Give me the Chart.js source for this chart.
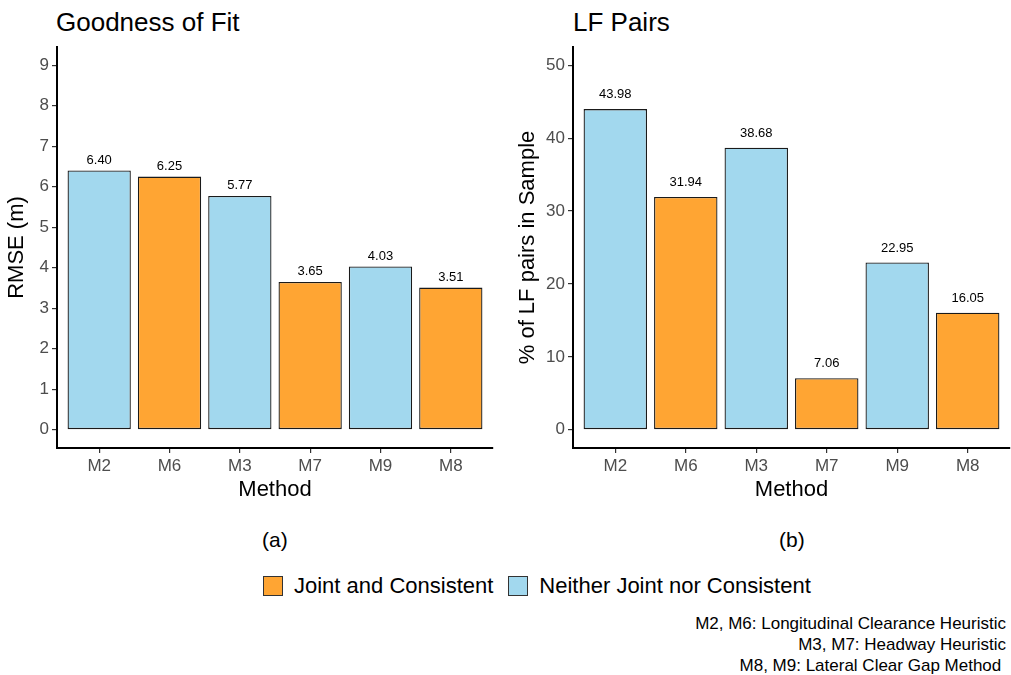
<!DOCTYPE html>
<html>
<head>
<meta charset="utf-8">
<script src="https://cdn.jsdelivr.net/npm/chart.js@4"></script>
<style>
  body { margin: 0; background: #fff; font-family: "Liberation Sans", Arial, sans-serif; }
  #wrap { position: relative; width: 1011px; height: 675px; }
  .box { position: absolute; }
  .title { position: absolute; font-size: 26px; color: #000; line-height: 1; }
  .tag { position: absolute; font-size: 21px; color: #000; line-height: 1; }
  #legend { position: absolute; left: 263px; top: 576px; display: flex; align-items: center; font-size: 22px; line-height: 20px; }
  #legend .sw { width: 20px; height: 20px; border: 1px solid #333; box-sizing: border-box; margin-right: 11px; }
  #legend .item { display: flex; align-items: center; margin-right: 15px; }
  #notes { position: absolute; right: 5px; top: 613px; text-align: right; font-size: 17px; line-height: 21px; }
</style>
</head>
<body>
<div id="wrap">
  <div class="title" style="left:56px; top:9px;">Goodness of Fit</div>
  <div class="title" style="left:573px; top:9px;">LF Pairs</div>
  <div class="box" style="left:0; top:0; width:505px; height:510px;"><canvas id="rmseChart"></canvas></div>
  <div class="box" style="left:505px; top:0; width:506px; height:510px;"><canvas id="pairsChart"></canvas></div>
  <div class="tag" style="left:262px; top:529px;">(a)</div>
  <div class="tag" style="left:779px; top:529px;">(b)</div>
  <div id="legend"></div>
  <div id="notes">
    M2, M6: Longitudinal Clearance Heuristic<br>
    M3, M7: Headway Heuristic<br>
    M8, M9: Lateral Clear Gap Method&nbsp;
  </div>
</div>
<script>
const methods = ['M2', 'M6', 'M3', 'M7', 'M9', 'M8'];
const groups = ['Neither', 'Joint', 'Neither', 'Joint', 'Neither', 'Joint'];
const rmse = [6.40, 6.25, 5.77, 3.65, 4.03, 3.51];
const lfPairs = [43.98, 31.94, 38.68, 7.06, 22.95, 16.05];
const rmseTicks = [0, 1, 2, 3, 4, 5, 6, 7, 8, 9];
const pairTicks = [0, 10, 20, 30, 40, 50];
const groupNames = ['Joint and Consistent', 'Neither Joint nor Consistent'];

const colors = { Joint: '#FFA533', Neither: '#A2D8EE' };
const FONT = '"Liberation Sans", Arial, sans-serif';

// value printed above each bar
const barLabels = {
  id: 'barLabels',
  afterDatasetsDraw(chart, args, opts) {
    const ctx = chart.ctx;
    const meta = chart.getDatasetMeta(0);
    const values = chart.data.datasets[0].data;
    ctx.save();
    ctx.font = '13px ' + FONT;
    ctx.fillStyle = '#000';
    ctx.textAlign = 'center';
    ctx.textBaseline = 'bottom';
    meta.data.forEach((bar, i) => {
      ctx.fillText(values[i].y.toFixed(2), bar.x, bar.y - opts.gap);
    });
    ctx.restore();
  }
};

function makeChart(id, values, ticks, yMin, yMax, yTitle, yWidth, padRight, titlePad, labelGap) {
  return new Chart(document.getElementById(id), {
    type: 'bar',
    data: {
      datasets: [{
        data: values.map((v, i) => ({ x: i + 1, y: v })),
        backgroundColor: groups.map(g => colors[g]),
        borderColor: '#1a1a1a',
        borderWidth: 1.3,
        borderSkipped: false,
        categoryPercentage: 1,
        barPercentage: 0.9,
      }],
    },
    options: {
      responsive: true,
      maintainAspectRatio: false,
      animation: false,
      layout: { padding: { top: 47, right: padRight, bottom: 0, left: 0 } },
      plugins: {
        legend: { display: false },
        tooltip: { enabled: false },
        barLabels: { gap: labelGap },
      },
      scales: {
        x: {
          type: 'linear',
          min: 0.4,
          max: 6.6,
          offset: false,
          afterBuildTicks: s => { s.ticks = methods.map((m, i) => ({ value: i + 1 })); },
          afterFit: s => { s.height = 62; },
          ticks: {
            callback: v => methods[v - 1],
            color: '#4D4D4D',
            font: { family: FONT, size: 17 },
            padding: 3,
            maxRotation: 0,
          },
          grid: { offset: false, drawOnChartArea: false, drawTicks: true, tickLength: 5, color: '#333', lineWidth: 1.2 },
          border: { display: true, color: '#000', width: 2 },
          title: { display: true, text: 'Method', color: '#000', font: { family: FONT, size: 22 }, padding: { top: 0, bottom: 7 } },
        },
        y: {
          min: yMin,
          max: yMax,
          afterBuildTicks: s => { s.ticks = ticks.map(v => ({ value: v })); },
          afterFit: s => { s.width = yWidth; },
          ticks: {
            color: '#4D4D4D',
            font: { family: FONT, size: 17 },
            padding: 3,
          },
          grid: { drawOnChartArea: false, drawTicks: true, tickLength: 5, color: '#333', lineWidth: 1.2 },
          border: { display: true, color: '#000', width: 2 },
          title: { display: true, text: yTitle, color: '#000', font: { family: FONT, size: 22 }, padding: { top: titlePad, bottom: 0 } },
        },
      },
    },
    plugins: [barLabels],
  });
}

makeChart('rmseChart', rmse, rmseTicks, -0.45, 9.45, 'RMSE (m)', 57, 12, 4, 4);
makeChart('pairsChart', lfPairs, pairTicks, -2.5, 52.5, '% of LF pairs in Sample', 68, 1, 10, 8);

document.getElementById('legend').innerHTML = ['Joint', 'Neither']
  .map((g, i) => `<div class="item"><div class="sw" style="background:${colors[g]}"></div><span>${groupNames[i]}</span></div>`)
  .join('');
</script>
</body>
</html>
